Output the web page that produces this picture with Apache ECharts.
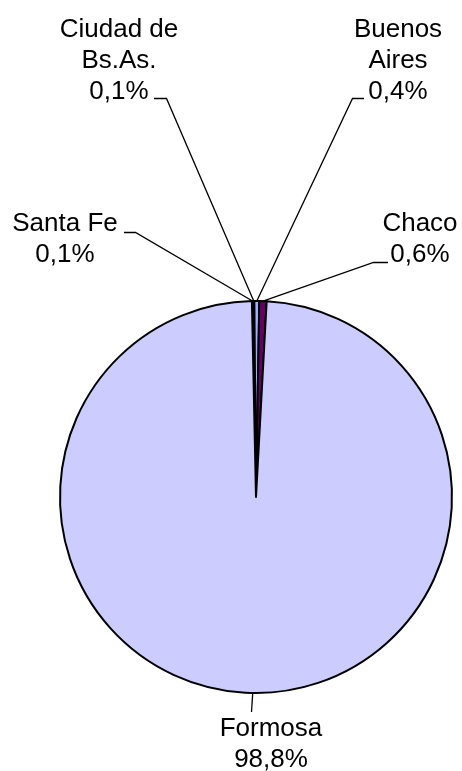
<!DOCTYPE html>
<html><head><meta charset="utf-8">
<script src="https://cdn.jsdelivr.net/npm/echarts@6/dist/echarts.min.js"></script>
<style>html,body{margin:0;padding:0;background:#fff;}#chart{width:462px;height:771px;}</style>
</head><body><div id="chart"></div>
<script>
// ---- data ----
const categories = ['Santa Fe', 'Ciudad de\nBs.As.', 'Buenos\nAires', 'Chaco', 'Formosa'];
const shares = [0.1, 0.1, 0.4, 0.6, 98.8];
const sliceColors = ['#000066', '#000080', '#A0B0FF', '#660066', '#CCCCFF'];

// ---- label layout (pixels) ----
const labelCenters = [[65, 239], [119, 61], [398, 61], [420, 239], [271, 744]];
const leaderBends  = [[135.5, 232.5], [166.5, 98.5], [352.5, 98.5], [373.5, 262.5], [251.5, 712]];
const leaderEnds   = [[124, 232.5], [154, 98.5], [364, 98.5], [388, 262.5], [251.5, 712]];

const CX = 256, CY = 497, R = 196, START = 91.2;
const FONT = 'Arial, "Liberation Sans", sans-serif';

const total = shares.reduce((a, b) => a + b, 0);
function anchorOf(i) {
  let cum = 0;
  for (let k = 0; k < i; k++) cum += shares[k];
  const ang = (START - (cum + shares[i] / 2) / total * 360) * Math.PI / 180;
  return [CX + R * Math.cos(ang), CY - R * Math.sin(ang)];
}

const chart = echarts.init(document.getElementById('chart'), null, {renderer: 'canvas'});
chart.setOption({
  backgroundColor: '#ffffff',
  animation: false,
  series: [{
    type: 'pie',
    center: [CX, CY],
    radius: R,
    startAngle: START,
    clockwise: true,
    avoidLabelOverlap: false,
    silent: true,
    data: categories.map((n, i) => ({name: n, value: shares[i], itemStyle: {color: sliceColors[i]}})),
    itemStyle: {borderColor: '#000000', borderWidth: 2},
    label: {
      show: true,
      position: 'outside',
      formatter: p => p.name + '\n' + p.value.toFixed(1).replace('.', ',') + '%',
      fontFamily: FONT,
      fontSize: 26,
      lineHeight: 31,
      color: '#000000',
      align: 'center'
    },
    labelLine: {show: true, length: 20, length2: 10, lineStyle: {color: '#000000', width: 1.3}},
    labelLayout: function (params) {
      const i = params.dataIndex;
      const a = anchorOf(i);
      return {
        x: labelCenters[i][0],
        y: labelCenters[i][1],
        align: 'center',
        verticalAlign: 'middle',
        labelLinePoints: [a, leaderBends[i], leaderEnds[i]]
      };
    }
  }]
});
</script></body></html>
